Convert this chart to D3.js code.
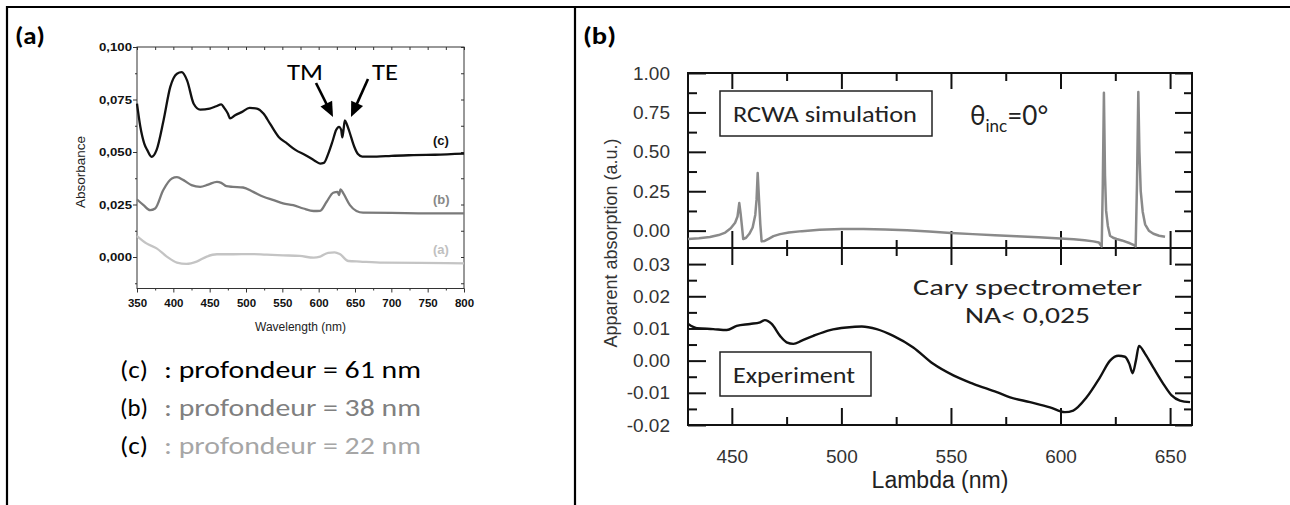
<!DOCTYPE html>
<html><head><meta charset="utf-8">
<script src="https://cdn.jsdelivr.net/npm/d3@7"></script>
<style>body{margin:0;background:#fff}svg{display:block}</style>
</head><body>
<svg id="c" width="1290" height="505"></svg>
<script>
// ---------- Panel (a) data ----------
const aXTicks = [350,400,450,500,550,600,650,700,750,800];
const aXMinor = [375,425,475,525,575,625,675,725,775];
const aYTicks = [0,0.025,0.05,0.075,0.1];
const aYLabels = ["0,000","0,025","0,050","0,075","0,100"];
const aYMinor = [-0.0125,0.0125,0.0375,0.0625,0.0875];

const cX = [350,354.6,360,364,370,377,386.5,395.8,405,411.5,419,428,437,450,459,466,470,475,478,485,494,505,515,524,533,545,556.7,568,582,594,602,607,613,619,624,628,631,632.5,634,636,639,642,649,654,660,680,700,730,760,800];
const cY = [0.073,0.062,0.054,0.051,0.0477,0.051,0.065,0.081,0.0873,0.088,0.084,0.073,0.0702,0.0707,0.0718,0.0727,0.071,0.0683,0.066,0.0675,0.069,0.071,0.0707,0.0683,0.0635,0.0572,0.054,0.051,0.0485,0.046,0.0445,0.0448,0.049,0.055,0.0605,0.062,0.0605,0.057,0.060,0.065,0.063,0.060,0.0525,0.049,0.0478,0.0478,0.0482,0.0485,0.0487,0.0492];

const bX = [350,359,368,375,386,398,405,414,425,437,448,460,466,473,482,496,510,524,538,551,565,579,593,602,611,620,626,628,630,634,643,652,661,700,750,800];
const bY = [0.0274,0.0247,0.0223,0.0231,0.0318,0.0374,0.038,0.0366,0.0342,0.0334,0.0345,0.0358,0.0353,0.0337,0.0334,0.0331,0.031,0.0287,0.0271,0.0255,0.0247,0.0231,0.0219,0.022,0.0263,0.0306,0.031,0.0295,0.0322,0.0303,0.0247,0.0219,0.0211,0.021,0.0208,0.0208];

const a0X = [350,363,377,391,405,418,432,446,460,483,505,528,551,574,593,602,613,622,629,641,657,689,740,800];
const a0Y = [0.010,0.0065,0.0041,0.0002,-0.0027,-0.0033,-0.0022,0.0002,0.0013,0.0013,0.0014,0.0011,0.0008,0.0005,-0.0003,0.0002,0.002,0.0022,0.0014,-0.0019,-0.0022,-0.0027,-0.0028,-0.003];

const legendTags = ["(c)","(b)","(c)"];
const legendTexts = [": profondeur = 61 nm",": profondeur = 38 nm",": profondeur = 22 nm"];
const seriesTags = ["(c)","(b)","(a)"];

// ---------- Panel (b) data ----------
const bXTicks = [450,500,550,600,650];
const bXMinor = [475,525,575,625];
const topYTicks = [0,0.25,0.5,0.75,1.0];
const topYLabels = ["0.00","0.25","0.50","0.75","1.00"];
const topYMinor = [0.125,0.375,0.625,0.875];
const botYTicks = [-0.02,-0.01,0,0.01,0.02,0.03];
const botYLabels = ["-0.02","-0.01","0.00","0.01","0.02","0.03"];
const botYMinor = [-0.015,-0.005,0.005,0.015,0.025];

const simX = [430,435,440,444,447,449.5,451.5,452.6,453.4,454.0,454.6,455.2,456.5,458.0,459.5,460.7,461.3,461.8,462.4,463.0,463.6,465,467,469,472,476,482,490,500,510,520,530,540,550,560,570,580,590,600,606,611,615,617.5,618.8,619.3,619.8,620.3,620.8,621.6,622.6,624,625.6,628,631.7,633.3,634.3,634.9,635.5,636.0,636.6,637.5,638.6,640.3,642.4,645,647.7];
const simY = [-0.053,-0.048,-0.040,-0.028,-0.012,0.015,0.05,0.09,0.175,0.11,0.03,-0.053,-0.045,-0.02,0.02,0.1,0.2,0.365,0.2,0.04,-0.068,-0.065,-0.05,-0.035,-0.022,-0.012,-0.003,0.005,0.010,0.011,0.008,0.002,-0.005,-0.015,-0.022,-0.029,-0.035,-0.042,-0.05,-0.055,-0.061,-0.068,-0.075,-0.10,0.3,0.875,0.35,0.127,0.03,-0.032,-0.045,-0.053,-0.062,-0.08,-0.09,-0.10,0.3,0.88,0.5,0.25,0.12,0.04,0.0,-0.02,-0.032,-0.038];

const expX = [430.1,434.0,441.5,447.7,452.2,458.3,462.9,465.1,468.2,472.0,475.0,478.1,481.9,487.2,494.8,502.4,509.3,516.1,523.7,532.8,541.9,551.1,560.2,570.9,577.0,586.1,595.2,602.0,605.8,611.9,618.0,622.6,626.4,629.4,631.4,632.9,634.4,635.8,638.6,642.3,646.9,650.7,654.5,659.1];
const expY = [0.0114,0.0101,0.0098,0.0095,0.0108,0.0114,0.0119,0.0126,0.0114,0.0077,0.0057,0.0052,0.0062,0.0077,0.0095,0.0103,0.0106,0.0098,0.0077,0.0041,-0.001,-0.0046,-0.0072,-0.0098,-0.0114,-0.0129,-0.0145,-0.016,-0.0155,-0.0114,-0.0052,0.0,0.0015,0.0012,-0.001,-0.0039,0.0,0.0046,0.0021,-0.0021,-0.0072,-0.0108,-0.0124,-0.0129];

// ---------- drawing ----------
const svg = d3.select("#c");
const CAL = "Carlito, Lato, 'Open Sans', sans-serif";
const ARIAL = "'Liberation Sans', Arial, sans-serif";
function fit(sel, w){ return sel.attr("textLength", w).attr("lengthAdjust","spacingAndGlyphs"); }

// table borders
svg.append("line").attr("x1",6).attr("x2",1290).attr("y1",7).attr("y2",7).attr("stroke","#000").attr("stroke-width",2.2);
svg.append("line").attr("x1",7).attr("x2",7).attr("y1",6).attr("y2",505).attr("stroke","#000").attr("stroke-width",2.2);
svg.append("line").attr("x1",575).attr("x2",575).attr("y1",6).attr("y2",505).attr("stroke","#000").attr("stroke-width",2.2);

// panel labels
fit(svg.append("text").attr("x",15).attr("y",44).attr("font-family",CAL).attr("font-weight","bold").attr("font-size",24).text("(a)"),30);
fit(svg.append("text").attr("x",583).attr("y",44).attr("font-family",CAL).attr("font-weight","bold").attr("font-size",24).text("(b)"),33);

// ===== Panel (a) =====
const xA = d3.scaleLinear([350,800],[137,464]);
const yA = d3.scaleLinear([-0.015,0.100],[288.5,47]);
function styleAxis(g, col, sw){ g.select(".domain").remove(); g.selectAll("line").attr("stroke",col).attr("stroke-width",sw); return g; }

const gA = svg.append("g");
const ylA = gA.append("g").attr("transform","translate(137,0)")
  .call(d3.axisLeft(yA).tickValues(aYTicks).tickSize(4).tickPadding(1).tickFormat((d,i)=>aYLabels[i]));
styleAxis(ylA,"#333",1);
ylA.selectAll("text").attr("font-family",ARIAL).attr("font-weight","bold").attr("font-size",11.5).attr("fill","#111")
  .attr("textLength",33).attr("lengthAdjust","spacingAndGlyphs");
styleAxis(gA.append("g").attr("transform","translate(137,0)").call(d3.axisLeft(yA).tickValues(aYMinor).tickSize(2).tickFormat("")),"#333",1);
const xlA = gA.append("g").attr("transform","translate(0,288.5)")
  .call(d3.axisBottom(xA).tickValues(aXTicks).tickSize(4).tickPadding(6).tickFormat(d3.format("d")));
styleAxis(xlA,"#333",1);
xlA.selectAll("text").attr("font-family",ARIAL).attr("font-weight","bold").attr("font-size",11.5).attr("fill","#111");
styleAxis(gA.append("g").attr("transform","translate(0,288.5)").call(d3.axisBottom(xA).tickValues(aXMinor).tickSize(2).tickFormat("")),"#333",1);
styleAxis(gA.append("g").attr("transform","translate(0,47)").call(d3.axisTop(xA).tickValues(aXTicks.concat(aXMinor)).tickSize(-3).tickFormat("")),"#333",1);
styleAxis(gA.append("g").attr("transform","translate(464,0)").call(d3.axisRight(yA).tickValues(aYTicks.concat(aYMinor)).tickSize(-3).tickFormat("")),"#333",1);
gA.append("rect").attr("x",137).attr("y",47).attr("width",464-137).attr("height",288.5-47).attr("fill","none").attr("stroke","#333").attr("stroke-width",1);

const lineA = d3.line().x(d=>xA(d[0])).y(d=>yA(d[1])).curve(d3.curveMonotoneX);
const seriesA = [
  {x:a0X,y:a0Y,col:"#c4c4c4"},
  {x:bX,y:bY,col:"#7a7a7a"},
  {x:cX,y:cY,col:"#111"}
];
seriesA.forEach(s=>{
  gA.append("path").datum(d3.zip(s.x,s.y)).attr("d",lineA).attr("fill","none").attr("stroke",s.col).attr("stroke-width",2.3).attr("stroke-linejoin","round");
});

// series tags
const tagCols = ["#111","#888","#c0c0c0"];
const tagVals = [cY[cY.length-1], bY[bY.length-1], a0Y[a0Y.length-1]];
seriesTags.forEach((t,i)=>{
  gA.append("text").attr("x",433).attr("y",yA(tagVals[i])-9).attr("font-family",ARIAL).attr("font-weight","bold")
    .attr("font-size",13).attr("fill",tagCols[i]).text(t);
});

// axis titles
gA.append("text").attr("x",300.5).attr("y",331).attr("text-anchor","middle").attr("font-family",ARIAL).attr("font-size",12).attr("fill","#222").text("Wavelength (nm)");
gA.append("text").attr("transform","translate(85,172) rotate(-90)").attr("text-anchor","middle").attr("font-family",ARIAL).attr("font-size",13.5).attr("fill","#222").text("Absorbance");

// TM / TE annotations
fit(gA.append("text").attr("x",287).attr("y",80).attr("font-family",CAL).attr("font-size",23).attr("fill","#000").text("TM"),36);
fit(gA.append("text").attr("x",372).attr("y",80).attr("font-family",CAL).attr("font-size",23).attr("fill","#000").text("TE"),26);
function arrow(g,x1,y1,x2,y2){
  const dx=x2-x1, dy=y2-y1, L=Math.hypot(dx,dy), ux=dx/L, uy=dy/L, hl=15, hw=6.5;
  const bx=x2-ux*hl, by=y2-uy*hl;
  g.append("line").attr("x1",x1).attr("y1",y1).attr("x2",bx+ux*2).attr("y2",by+uy*2).attr("stroke","#000").attr("stroke-width",2.6);
  g.append("path").attr("d",`M${x2},${y2}L${bx-uy*hw},${by+ux*hw}L${bx+uy*hw},${by-ux*hw}Z`).attr("fill","#000");
}
arrow(gA,316,83,333,117);
arrow(gA,368,79,351,117);

// legend lines
const legCols = ["#000","#808080","#a6a6a6"];
const legBase = [378,416,454];
legendTexts.forEach((t,i)=>{
  fit(gA.append("text").attr("x",120).attr("y",legBase[i]).attr("font-family",CAL).attr("font-size",25).attr("fill","#000").text(legendTags[i]),28);
  fit(gA.append("text").attr("x",164).attr("y",legBase[i]).attr("font-family",CAL).attr("font-size",25).attr("fill",legCols[i]).text(t),257);
});

// ===== Panel (b) =====
const xB = d3.scaleLinear([430,660],[688,1192]);
const yT = d3.scaleLinear([-0.11,1.0],[248,73]);
const yB = d3.scaleLinear([-0.02,0.035],[425,248]);
const gB = svg.append("g");
const TC = "#111", TW = 2;

function tl(g){ g.selectAll("text").attr("font-family",ARIAL).attr("font-size",19).attr("fill","#333"); return g; }
// left axes
tl(styleAxis(gB.append("g").attr("transform","translate(688,0)").call(d3.axisLeft(yT).tickValues(topYTicks).tickSize(-18).tickPadding(18).tickFormat((d,i)=>topYLabels[i])),TC,TW));
styleAxis(gB.append("g").attr("transform","translate(688,0)").call(d3.axisLeft(yT).tickValues(topYMinor).tickSize(-9).tickFormat("")),TC,TW);
tl(styleAxis(gB.append("g").attr("transform","translate(688,0)").call(d3.axisLeft(yB).tickValues(botYTicks).tickSize(-18).tickPadding(18).tickFormat((d,i)=>botYLabels[i])),TC,TW));
styleAxis(gB.append("g").attr("transform","translate(688,0)").call(d3.axisLeft(yB).tickValues(botYMinor).tickSize(-9).tickFormat("")),TC,TW);
// right axes
styleAxis(gB.append("g").attr("transform","translate(1192,0)").call(d3.axisRight(yT).tickValues(topYTicks).tickSize(-17).tickFormat("")),TC,TW);
styleAxis(gB.append("g").attr("transform","translate(1192,0)").call(d3.axisRight(yT).tickValues(topYMinor).tickSize(-8).tickFormat("")),TC,TW);
styleAxis(gB.append("g").attr("transform","translate(1192,0)").call(d3.axisRight(yB).tickValues(botYTicks).tickSize(-17).tickFormat("")),TC,TW);
styleAxis(gB.append("g").attr("transform","translate(1192,0)").call(d3.axisRight(yB).tickValues(botYMinor).tickSize(-8).tickFormat("")),TC,TW);
// top axis
styleAxis(gB.append("g").attr("transform","translate(0,73)").call(d3.axisTop(xB).tickValues(bXTicks).tickSize(-16).tickFormat("")),TC,TW);
styleAxis(gB.append("g").attr("transform","translate(0,73)").call(d3.axisTop(xB).tickValues(bXMinor).tickSize(-8).tickFormat("")),TC,TW);
// divider ticks (both sides)
[[-17,-8],[17,8]].forEach(([M,m])=>{
  styleAxis(gB.append("g").attr("transform","translate(0,248)").call(d3.axisBottom(xB).tickValues(bXTicks).tickSize(M).tickFormat("")),TC,TW);
  styleAxis(gB.append("g").attr("transform","translate(0,248)").call(d3.axisBottom(xB).tickValues(bXMinor).tickSize(m).tickFormat("")),TC,TW);
});
// bottom axis
tl(styleAxis(gB.append("g").attr("transform","translate(0,425)").call(d3.axisBottom(xB).tickValues(bXTicks).tickSize(-17).tickPadding(25).tickFormat(d3.format("d"))),TC,TW));
styleAxis(gB.append("g").attr("transform","translate(0,425)").call(d3.axisBottom(xB).tickValues(bXMinor).tickSize(-8).tickFormat("")),TC,TW);
// frame + divider
gB.append("rect").attr("x",688).attr("y",73).attr("width",1192-688).attr("height",425-73).attr("fill","none").attr("stroke",TC).attr("stroke-width",TW);
gB.append("line").attr("x1",688).attr("x2",1192).attr("y1",248).attr("y2",248).attr("stroke",TC).attr("stroke-width",TW);

// curves
gB.append("path").datum(d3.zip(simX,simY)).attr("d",d3.line().x(d=>xB(d[0])).y(d=>yT(d[1]))).attr("fill","none").attr("stroke","#8a8a8a").attr("stroke-width",2.5).attr("stroke-linejoin","round");
gB.append("path").datum(d3.zip(expX,expY)).attr("d",d3.line().x(d=>xB(d[0])).y(d=>yB(d[1])).curve(d3.curveMonotoneX)).attr("fill","none").attr("stroke","#111").attr("stroke-width",2.4).attr("stroke-linejoin","round");

// titles
gB.append("text").attr("x",940).attr("y",488).attr("text-anchor","middle").attr("font-family",ARIAL).attr("font-size",23).attr("fill","#222").text("Lambda (nm)");
gB.append("text").attr("transform","translate(617,243) rotate(-90)").attr("text-anchor","middle").attr("font-family",ARIAL).attr("font-size",18).attr("fill","#333").text("Apparent absorption (a.u.)");

// boxes and annotations
gB.append("rect").attr("x",720).attr("y",91).attr("width",212).attr("height",45).attr("fill","#fff").attr("stroke","#222").attr("stroke-width",1.5);
fit(gB.append("text").attr("x",733).attr("y",122).attr("font-family",CAL).attr("font-size",23).attr("fill","#222").text("RCWA simulation"),184);
gB.append("rect").attr("x",720).attr("y",352).attr("width",151).attr("height",44).attr("fill","#fff").attr("stroke","#222").attr("stroke-width",1.5);
fit(gB.append("text").attr("x",733).attr("y",383).attr("font-family",CAL).attr("font-size",23).attr("fill","#222").text("Experiment"),122);
fit(gB.append("text").attr("x",913).attr("y",295).attr("font-family",CAL).attr("font-size",23).attr("fill","#222").text("Cary spectrometer"),229);
fit(gB.append("text").attr("x",965).attr("y",323).attr("font-family",CAL).attr("font-size",23).attr("fill","#222").text("NA< 0,025"),125);
const th = gB.append("text").attr("x",970).attr("y",125).attr("font-family","Lato, 'Noto Sans', 'DejaVu Sans', sans-serif").attr("font-size",26).attr("fill","#222");
th.append("tspan").text("θ");
th.append("tspan").attr("dy",7).attr("font-size",17).text("inc");
th.append("tspan").attr("dy",-7).text("=0°");
</script>
</body></html>
